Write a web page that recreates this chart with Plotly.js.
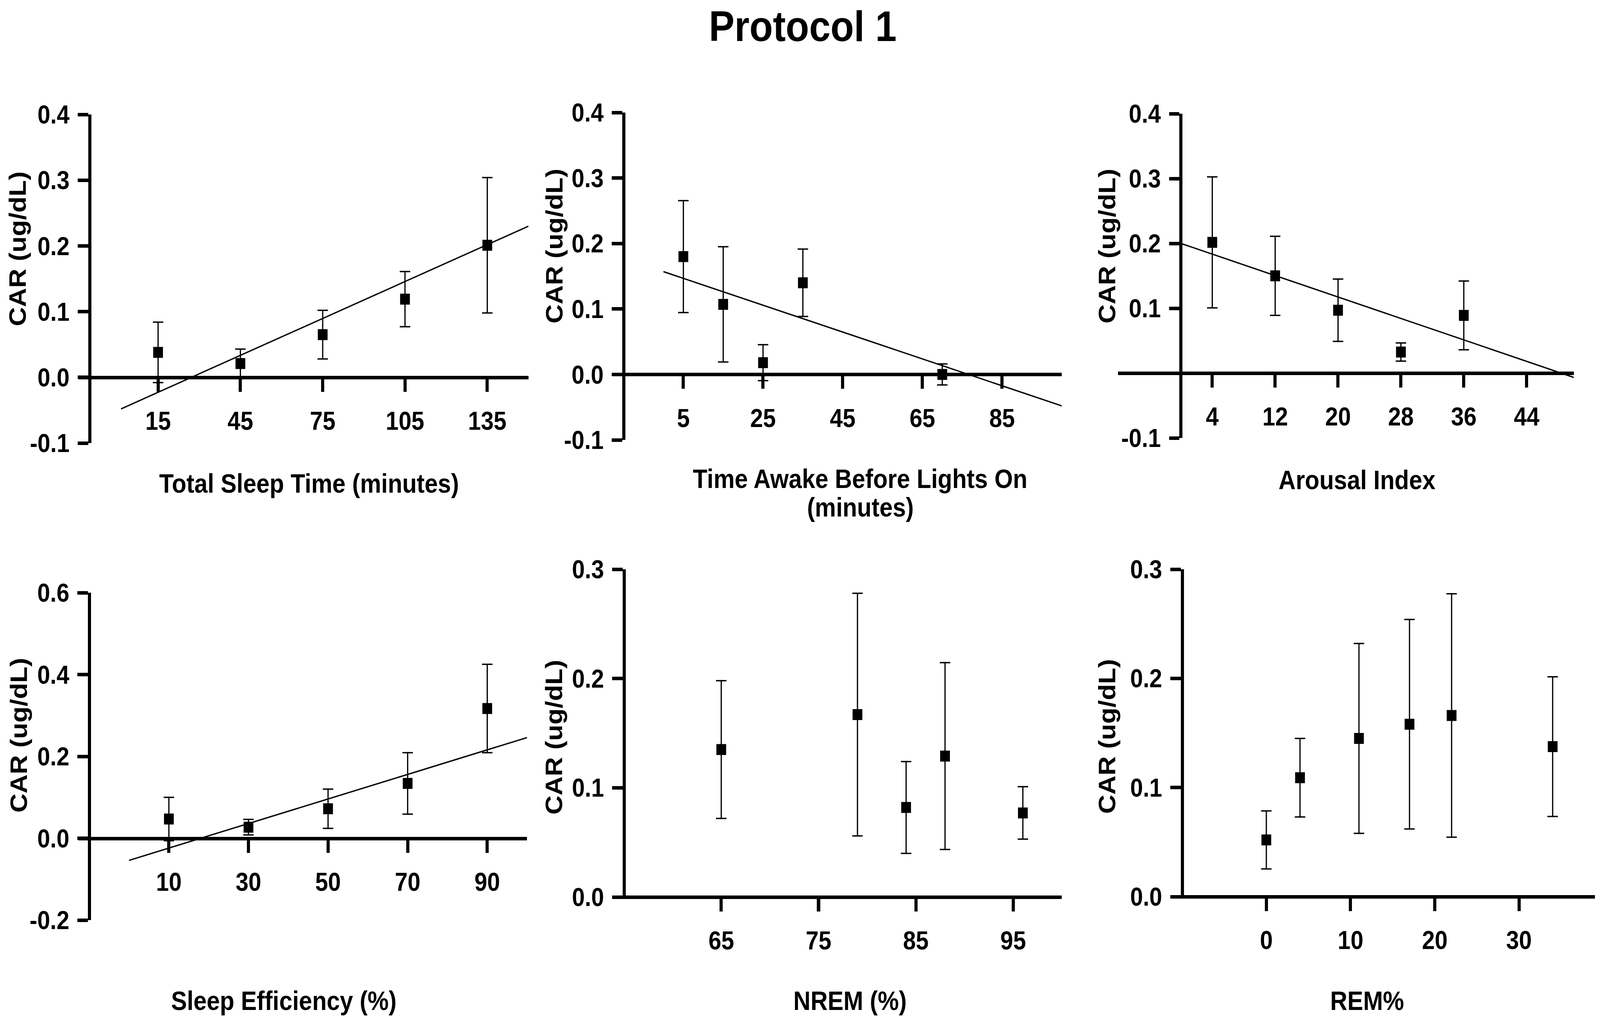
<!DOCTYPE html>
<html>
<head>
<meta charset="utf-8">
<script src="https://cdn.plot.ly/plotly-3.0.1.min.js"></script>
<style>
html,body{margin:0;padding:0;background:#fff;overflow:hidden}
#chart{transform-origin:0 0}
</style>
</head>
<body>
<div id="chart"></div>
<script>
// ===== Data =====
// 1. Total Sleep Time
const tstX = [15, 45, 75, 105, 135];
const tstY = [0.038, 0.021, 0.065, 0.119, 0.201];
const tstErr = [0.046, 0.022, 0.037, 0.042, 0.103];
const tstFitX = [1.5, 150];
const tstFitY = [-0.048, 0.230];

// 2. Time awake before lights on
const awakeX = [5, 15, 25, 35, 70];
const awakeY = [0.180, 0.107, 0.018, 0.140, 0.000];
const awakeErr = [0.0855, 0.088, 0.0275, 0.0515, 0.016];
const awakeFitX = [0, 100];
const awakeFitY = [0.157, -0.048];

// 3. Arousal index
const arousalX = [4, 12, 20, 28, 36];
const arousalY = [0.2016, 0.150, 0.097, 0.0325, 0.089];
const arousalErr = [0.101, 0.061, 0.048, 0.014, 0.053];
const arousalFitX = [0, 50];
const arousalFitY = [0.200, -0.0066];

// 4. Sleep efficiency
const effX = [10, 30, 50, 70, 90];
const effY = [0.047, 0.027, 0.072, 0.134, 0.317];
const effErr = [0.053, 0.019, 0.048, 0.075, 0.108];
const effFitX = [0, 100];
const effFitY = [-0.054, 0.246];

// 5. NREM %
const nremX = [65, 79, 84, 88, 96];
const nremY = [0.135, 0.167, 0.082, 0.129, 0.077];
const nremErr = [0.063, 0.111, 0.042, 0.0855, 0.024];

// 6. REM %
const remX = [0, 4, 11, 17, 22, 34];
const remY = [0.052, 0.109, 0.145, 0.158, 0.166, 0.1375];
const remErr = [0.0266, 0.036, 0.087, 0.096, 0.1115, 0.064];

// tick labels
const xTicks1 = [15, 45, 75, 105, 135];
const xTicks2 = [5, 25, 45, 65, 85];
const xTicks3 = [4, 12, 20, 28, 36, 44];
const xTicks4 = [10, 30, 50, 70, 90];
const xTicks5 = [65, 75, 85, 95];
const xTicks6 = [0, 10, 20, 30];
const yTicksTop = [-0.1, 0, 0.1, 0.2, 0.3, 0.4];
const yTextTop = ['-0.1', '0.0', '0.1', '0.2', '0.3', '0.4'];
const yTicksArousal = [-0.1, 0.1, 0.2, 0.3, 0.4];
const yTextArousal = ['-0.1', '0.1', '0.2', '0.3', '0.4'];
const yTicksEff = [-0.2, 0, 0.2, 0.4, 0.6];
const yTextEff = ['-0.2', '0.0', '0.2', '0.4', '0.6'];
const yTicksBottom = [0, 0.1, 0.2, 0.3];
const yTextBottom = ['0.0', '0.1', '0.2', '0.3'];

const xTitles = ['Total Sleep Time (minutes)', 'Time Awake Before Lights On<br>(minutes)', 'Arousal Index',
                 'Sleep Efficiency (%)', 'NREM (%)', 'REM%'];
const yTitle = 'CAR (ug/dL)';
const mainTitle = 'Protocol 1';

// ===== Layout =====
// drawn on the 4584 x 2603 grid of the original, then the div is scaled to fill the window
const W = 4584, H = 2603;
const FONT = 'Liberation Sans, Arial, Helvetica, sans-serif';
const TICK_FONT = { family: FONT, size: 66, color: '#000', weight: 'bold' };
const TITLE_FONT = { family: FONT, size: 68, color: '#000', weight: 'bold' };
const LINE_W = 9;

// box = [left px, right px, top px, bottom px] of the axis lines
const PANELS = [
  { box: [225, 1514, 293, 1134], xr: [-14, 150], yr: [-0.1, 0.4], yAt: -10,
    xt: xTicks1, yt: yTicksTop, ytext: yTextTop, xTitle: [886, 1237], yTitle: [50, 637] },
  { box: [1757, 3042, 288, 1126], xr: [-12.6, 100], yr: [-0.1, 0.4], yAt: -10,
    xt: xTicks2, yt: yTicksTop, ytext: yTextTop, xTitle: [2465, 1225], yTitle: [1588, 630] },
  { box: [3203, 4509, 291, 1121], xr: [-8, 50], yr: [-0.1, 0.4], yAt: 0,
    xt: xTicks3, yt: yTicksArousal, ytext: yTextArousal, xTitle: [3888, 1228], yTitle: [3171, 630] },
  { box: [225, 1510, 1517, 2355], xr: [-12.7, 100], yr: [-0.2, 0.6], yAt: -10,
    xt: xTicks4, yt: yTicksEff, ytext: yTextEff, xTitle: [813, 2561], yTitle: [53, 1882] },
  { box: [1757, 3042, 1457, 2296], xr: [53.9, 100], yr: [0, 0.3], yAt: 55,
    xt: xTicks5, yt: yTicksBottom, ytext: yTextBottom, xTitle: [2435, 2561], yTitle: [1586, 1887] },
  { box: [3353, 4569, 1457, 2295], xr: [-11.4, 39], yr: [0, 0.3], yAt: -10,
    xt: xTicks6, yt: yTicksBottom, ytext: yTextBottom, xTitle: [3917, 2561], yTitle: [3171, 1885] },
];
const TITLE_LINE_GAP = 73;

const SERIES = [
  { x: tstX, y: tstY, err: tstErr, fx: tstFitX, fy: tstFitY },
  { x: awakeX, y: awakeY, err: awakeErr, fx: awakeFitX, fy: awakeFitY },
  { x: arousalX, y: arousalY, err: arousalErr, fx: arousalFitX, fy: arousalFitY },
  { x: effX, y: effY, err: effErr, fx: effFitX, fy: effFitY },
  { x: nremX, y: nremY, err: nremErr },
  { x: remX, y: remY, err: remErr },
];

const layout = {
  width: W, height: H,
  margin: { l: 0, r: 0, t: 0, b: 0, pad: 0 },
  paper_bgcolor: '#fff', plot_bgcolor: 'rgba(0,0,0,0)',
  showlegend: false,
  font: { family: FONT, color: '#000' },
  annotations: [],
};
const traces = [];

function note(xPx, yPx, text, font, angle) {
  layout.annotations.push({
    xref: 'paper', yref: 'paper', x: xPx / W, y: 1 - yPx / H,
    xanchor: 'center', yanchor: 'middle', showarrow: false, text: text, font: font,
    textangle: angle || 0,
  });
}

PANELS.forEach((p, i) => {
  const n = i + 1;
  const [l, r, t, b] = p.box;
  const ax = n === 1 ? '' : String(n);
  const zeroPx = t + (p.yr[1] - Math.max(0, p.yr[0])) / (p.yr[1] - p.yr[0]) * (b - t);
  const yAxisPx = l + (p.yAt - p.xr[0]) / (p.xr[1] - p.xr[0]) * (r - l);

  layout['xaxis' + ax] = {
    domain: [l / W, r / W], range: p.xr, anchor: 'free', position: 1 - zeroPx / H,
    showline: true, linewidth: LINE_W, linecolor: '#000',
    ticks: 'outside', ticklen: 32, tickwidth: LINE_W, tickcolor: '#000',
    tickvals: p.xt, ticktext: p.xt.map(String), tickfont: TICK_FONT, ticklabelstandoff: 18,
    showgrid: false, zeroline: false, fixedrange: true,
  };
  layout['yaxis' + ax] = {
    domain: [1 - b / H, 1 - t / H], range: p.yr, anchor: 'free', position: yAxisPx / W,
    showline: true, linewidth: LINE_W, linecolor: '#000',
    ticks: 'outside', ticklen: 30, tickwidth: LINE_W, tickcolor: '#000',
    tickvals: p.yt, ticktext: p.ytext, tickfont: TICK_FONT, ticklabelstandoff: 10,
    showgrid: false, zeroline: false, fixedrange: true,
  };

  const s = SERIES[i];
  if (s.fx) {
    traces.push({
      type: 'scatter', mode: 'lines', x: s.fx, y: s.fy, xaxis: 'x' + ax, yaxis: 'y' + ax,
      line: { color: '#000', width: 3.5 }, hoverinfo: 'skip',
    });
  }
  traces.push({
    type: 'scatter', mode: 'markers', x: s.x, y: s.y, xaxis: 'x' + ax, yaxis: 'y' + ax,
    marker: { symbol: 'square', size: 28, color: '#000' },
    error_y: { type: 'data', array: s.err, visible: true, color: '#000', thickness: 3.5, width: 15 },
  });

  xTitles[i].split('<br>').forEach((line, k) => {
    note(p.xTitle[0], p.xTitle[1] + k * TITLE_LINE_GAP, line, TITLE_FONT);
  });
  note(p.yTitle[0], p.yTitle[1], yTitle, TITLE_FONT, -90);
});

note(2300, 66, mainTitle, { family: FONT, size: 110, color: '#000', weight: 'bold' });

Plotly.newPlot('chart', traces, layout, { displayModeBar: false, staticPlot: true }).then(() => {
  const el = document.getElementById('chart');
  el.style.transform = `scale(${window.innerWidth / W}, ${window.innerHeight / H})`;
});
</script>
</body>
</html>
